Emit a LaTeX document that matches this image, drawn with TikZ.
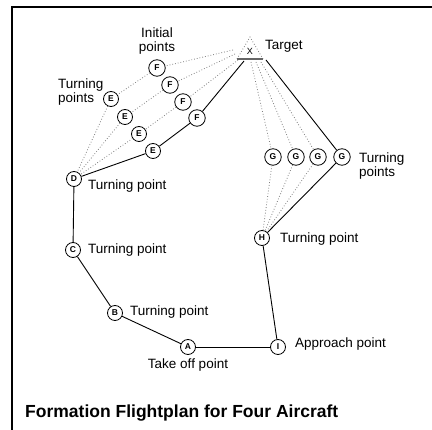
\documentclass[tikz,border=0pt]{standalone}
\usepackage{fontspec}
\setmainfont{Liberation Sans}
\begin{document}
\begin{tikzpicture}[x=1pt,y=-1pt,
  wp/.style={circle,draw=black,line width=0.8pt,inner sep=0pt,minimum size=16.5pt,font=\fontsize{8.5}{8.5}\selectfont\bfseries},
  wps/.style={wp,minimum size=15pt},
  lbl/.style={font=\fontsize{13.5}{14}\selectfont,inner sep=0pt},
  route/.style={line width=0.9pt,black},
  alt/.style={line width=0.8pt,gray,dotted},
  frame/.style={line width=2pt,black}]
\useasboundingbox (0,0) rectangle (432,430);
\draw[frame] (12,431) -- (12,7) -- (433,7);
% target
\coordinate (ta) at (250,37);
\coordinate (tbl) at (237,59);
\coordinate (tbr) at (263,59);
\draw[alt] (tbl) -- (ta) -- (tbr);
\draw[line width=1.6pt,gray!80!black] (tbl) -- (tbr);
\node[font=\fontsize{9}{9}\selectfont,inner sep=0pt] (X) at (250,51) {X};
\node[lbl,anchor=base west] (tlab) at (265,50) {Target};
\coordinate (tF1) at (233,50);
\coordinate (tF2) at (235,54);
\coordinate (tF3) at (238,60);
\coordinate (tF4) at (244,61);
\coordinate (tG1) at (251,62);
\coordinate (tG2) at (256,62);
\coordinate (tG3) at (261,62);
\coordinate (tG4) at (266,60);
% waypoints
\node[wp] (F1) at (157,68) {F};
\node[wp] (F2) at (170,85) {F};
\node[wp] (F3) at (183,102) {F};
\node[wp] (F4) at (197,118) {F};
\node[wps] (E1) at (111,99) {E};
\node[wps] (E2) at (125,117) {E};
\node[wps] (E3) at (139,134) {E};
\node[wps] (E4) at (153,151) {E};
\node[wps] (D) at (74,179) {D};
\node[wps] (C) at (73,250) {C};
\node[wps] (B) at (115,313) {B};
\node[wps] (A) at (188,347) {A};
\node[wps] (I) at (278,347) {I};
\node[wps] (H) at (262,238) {H};
\node[wp] (G1) at (273,157) {G};
\node[wp] (G2) at (296,157) {G};
\node[wp] (G3) at (318,157) {G};
\node[wp] (G4) at (342,157) {G};
% labels
\node[lbl,align=center] (lIP) at (157,41) {Initial\\points};
\node[lbl,align=left,anchor=west] (lTPl) at (58,92) {Turning\\points};
\node[lbl,align=left,anchor=west] (lTPr) at (359,166) {Turning\\points};
\node[lbl,anchor=base west] (lD) at (88,190) {Turning point};
\node[lbl,anchor=base west] (lC) at (88,254) {Turning point};
\node[lbl,anchor=base west] (lB) at (130,316) {Turning point};
\node[lbl,anchor=base west] (lH) at (280,243) {Turning point};
\node[lbl,anchor=base] (lA) at (188,369) {Take off point};
\node[lbl,anchor=base west] (lI) at (295,348) {Approach point};
\node[font=\fontsize{17.5}{17.5}\selectfont\bfseries,inner sep=0pt,anchor=base west] (title) at (25,418) {Formation Flightplan for Four Aircraft};
% dotted alternatives
\draw[alt] (tF1) -- (F1);
\draw[alt] (tF2) -- (F2);
\draw[alt] (tF3) -- (F3);
\draw[alt] (F1) -- (E1);
\draw[alt] (F2) -- (E2);
\draw[alt] (F3) -- (E3);
\draw[alt] (E1) -- (D);
\draw[alt] (E2) -- (D);
\draw[alt] (E3) -- (D);
\draw[alt] (tG1) -- (G1);
\draw[alt] (tG2) -- (G2);
\draw[alt] (tG3) -- (G3);
\draw[alt] (G1) -- (H);
\draw[alt] (G2) -- (H);
\draw[alt] (G3) -- (H);
% main route
\draw[route] (A) -- (B);
\draw[route] (B) -- (C);
\draw[route] (C) -- (D);
\draw[route] (D) -- (E4);
\draw[route] (E4) -- (F4);
\draw[route] (F4) -- (tF4);
\draw[route] (tG4) -- (G4);
\draw[route] (G4) -- (H);
\draw[route] (H) -- (I);
\draw[route] (I) -- (A);
\end{tikzpicture}
\end{document}
